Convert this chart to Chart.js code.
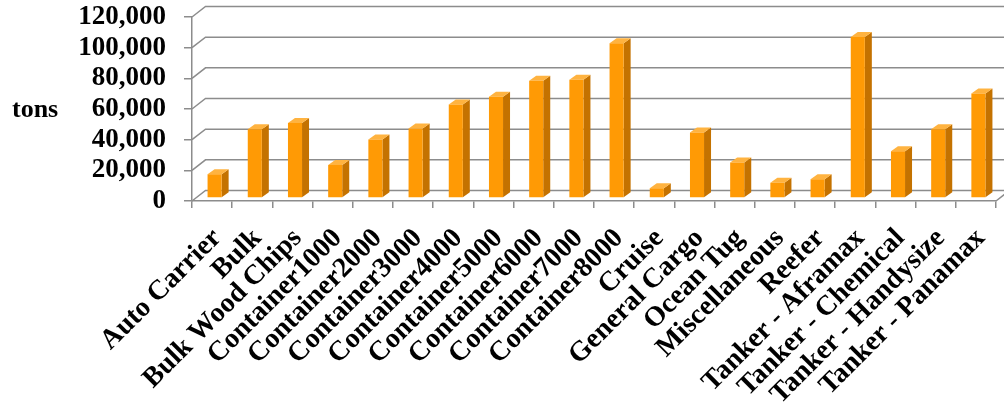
<!DOCTYPE html>
<html lang="en">
<head>
<meta charset="UTF-8">
<title>Tons by vessel type</title>
<script src="https://cdn.jsdelivr.net/npm/chart.js"></script>
<style>
  body { margin: 0; background: #fff; }
  .wrap { position: relative; width: 1004px; height: 405px; }
</style>
</head>
<body>
<div class="wrap"><canvas id="tonsChart"></canvas></div>
<script>
const vesselTypes = [
  'Auto Carrier', 'Bulk', 'Bulk Wood Chips', 'Container1000', 'Container2000',
  'Container3000', 'Container4000', 'Container5000', 'Container6000', 'Container7000',
  'Container8000', 'Cruise', 'General Cargo', 'Ocean Tug', 'Miscellaneous',
  'Reefer', 'Tanker - Aframax', 'Tanker - Chemical', 'Tanker - Handysize', 'Tanker - Panamax'
];
const tons = [
  15500, 44900, 48900, 21500, 38200,
  45300, 60900, 66000, 76500, 77100,
  100900, 6300, 42700, 23100, 10000,
  12200, 105000, 30500, 44900, 68200
];
const yMax = 120000;
const yStep = 20000;

const FONT = '"Liberation Serif", "Times New Roman", serif';
const GRID = '#8c8c8c';

// fake 3D: side wall + back wall offset, bars stand a bit into the floor
const WALL_DX = 13.5, WALL_DY = -10.5;
const BAR_SHIFT_X = 2.5, BAR_SHIFT_Y = -3;
const BAR_DX = 7, BAR_DY = -5;
const FRONT = '#ff9a05', SIDE = '#c47200', TOP = '#ffb340';

const box3d = {
  id: 'box3d',
  beforeDatasetsDraw(chart) {
    const { ctx, chartArea: a, scales: { y } } = chart;
    ctx.save();
    ctx.strokeStyle = GRID;
    ctx.lineWidth = 1.5;
    y.ticks.forEach(t => {
      const py = y.getPixelForValue(t.value);
      ctx.beginPath();
      ctx.moveTo(a.left, py);
      ctx.lineTo(a.left + WALL_DX, py + WALL_DY);
      ctx.lineTo(a.right + WALL_DX, py + WALL_DY);
      ctx.stroke();
    });
    ctx.beginPath();
    ctx.moveTo(a.right, a.bottom);
    ctx.lineTo(a.right + WALL_DX, a.bottom + WALL_DY);
    ctx.stroke();
    ctx.restore();

    // restored in afterDatasetsDraw so the front faces get the same shift
    ctx.save();
    ctx.translate(BAR_SHIFT_X, BAR_SHIFT_Y);
    chart.getDatasetMeta(0).data.forEach(bar => {
      const l = bar.x - bar.width / 2, r = bar.x + bar.width / 2;
      const top = bar.y, base = bar.base;
      ctx.fillStyle = SIDE;
      ctx.beginPath();
      ctx.moveTo(r, top);
      ctx.lineTo(r + BAR_DX, top + BAR_DY);
      ctx.lineTo(r + BAR_DX, base + BAR_DY);
      ctx.lineTo(r, base);
      ctx.closePath();
      ctx.fill();
      ctx.fillStyle = TOP;
      ctx.beginPath();
      ctx.moveTo(l, top);
      ctx.lineTo(l + BAR_DX, top + BAR_DY);
      ctx.lineTo(r + BAR_DX, top + BAR_DY);
      ctx.lineTo(r, top);
      ctx.closePath();
      ctx.fill();
    });
  },
  afterDatasetsDraw(chart) {
    const ctx = chart.ctx;
    ctx.restore();
    ctx.save();
    ctx.fillStyle = '#000';
    ctx.font = 'bold 26px ' + FONT;
    ctx.textAlign = 'left';
    ctx.textBaseline = 'middle';
    ctx.fillText('tons', 12, 110);
    ctx.restore();
  }
};

new Chart(document.getElementById('tonsChart'), {
  type: 'bar',
  data: {
    labels: vesselTypes,
    datasets: [{
      label: 'tons',
      data: tons,
      backgroundColor: FRONT,
      borderWidth: 0,
      barPercentage: 0.35,
      categoryPercentage: 1
    }]
  },
  options: {
    responsive: true,
    maintainAspectRatio: false,
    animation: false,
    layout: { padding: { top: 17, right: 8, left: 0, bottom: 0 } },
    plugins: {
      legend: { display: false },
      tooltip: { enabled: false }
    },
    scales: {
      x: {
        afterFit(scale) {
          scale.height = 204;
          scale.paddingLeft = 0;
          scale.paddingRight = 0;
        },
        border: { color: GRID, width: 1.5 },
        grid: { drawOnChartArea: false, drawTicks: true, tickLength: 7, color: GRID, lineWidth: 1.5, offset: true },
        ticks: {
          autoSkip: false,
          minRotation: 45,
          maxRotation: 45,
          padding: 14,
          labelOffset: 5,
          color: '#000',
          font: { family: FONT, size: 28, weight: 'bold' }
        }
      },
      y: {
        min: 0,
        max: yMax,
        afterFit(scale) {
          scale.width = 192;
          // label half-heights would otherwise push the plot area inwards
          scale.paddingTop = 0;
          scale.paddingBottom = 0;
        },
        border: { color: GRID, width: 1.5 },
        grid: { drawOnChartArea: false, drawTicks: true, tickLength: 8, color: GRID, lineWidth: 1.5 },
        ticks: {
          autoSkip: false,
          stepSize: yStep,
          padding: 18,
          color: '#000',
          font: { family: FONT, size: 27, weight: 'bold' },
          callback: v => v.toLocaleString('en-US')
        }
      }
    }
  },
  plugins: [box3d]
});
</script>
</body>
</html>
